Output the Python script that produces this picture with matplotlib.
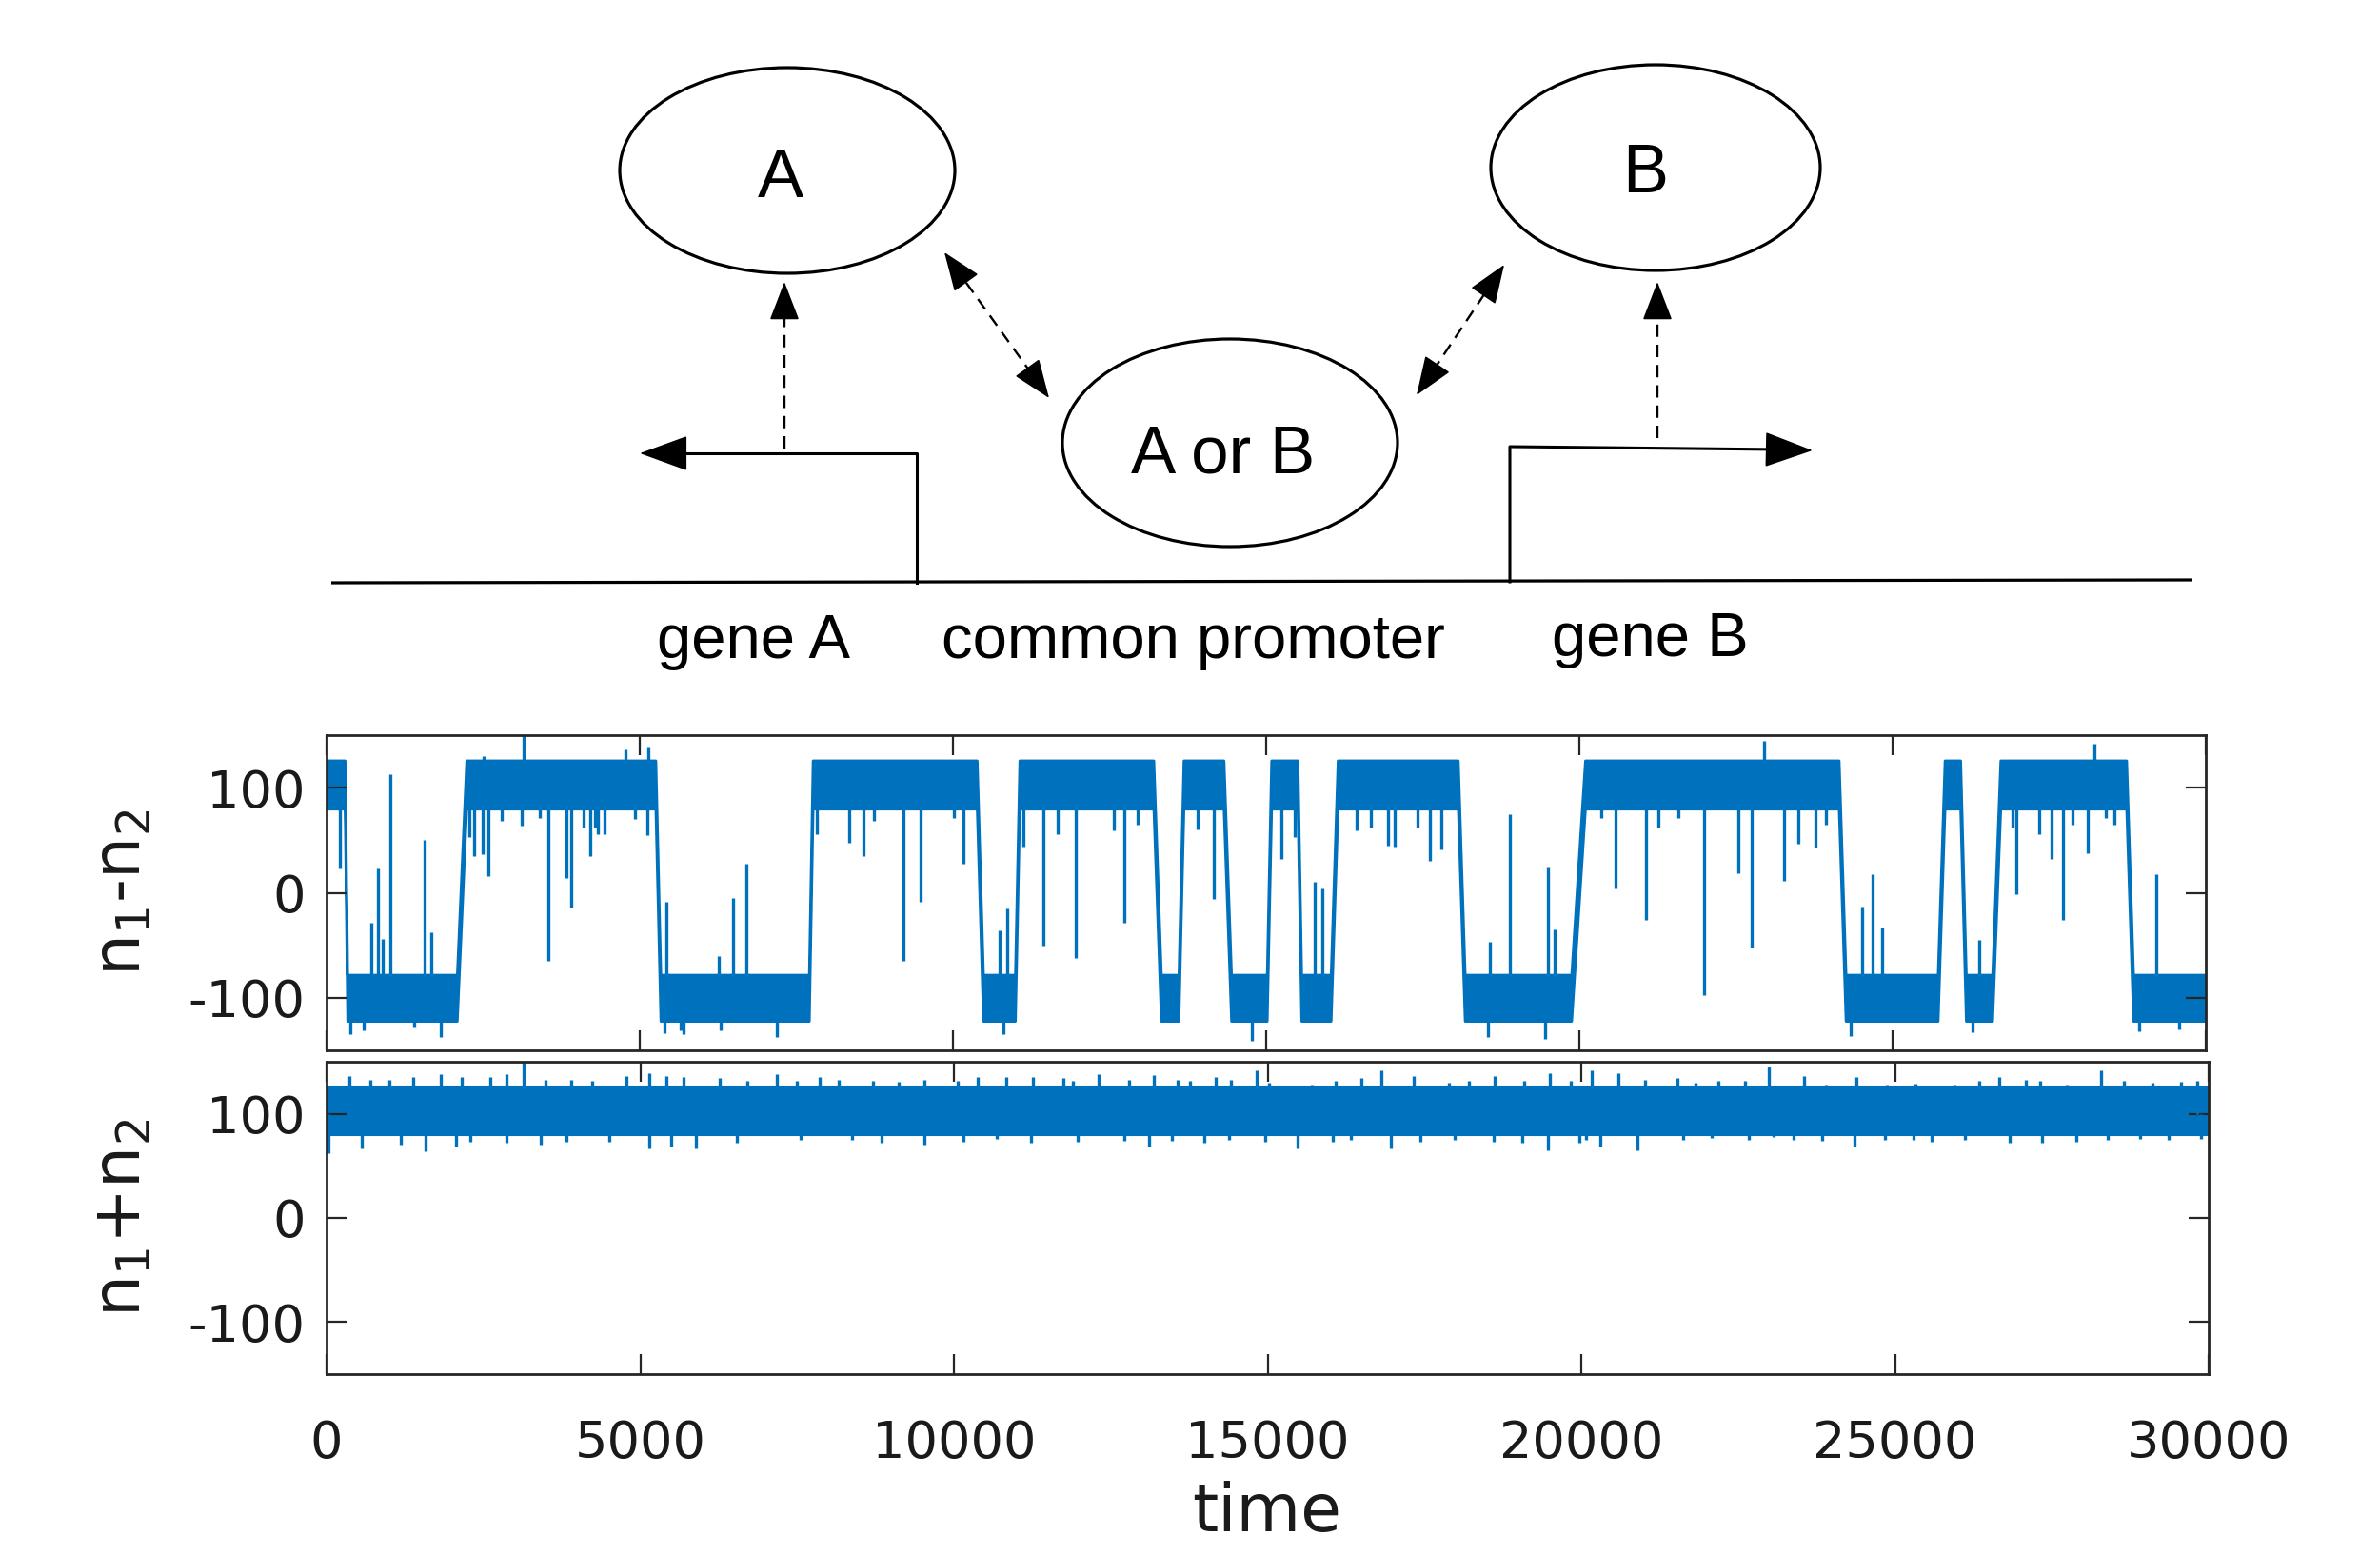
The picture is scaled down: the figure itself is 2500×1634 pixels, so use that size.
import matplotlib
matplotlib.use("Agg")
import matplotlib.pyplot as plt
from matplotlib.patches import Ellipse
import numpy as np

plt.rcParams['axes.unicode_minus'] = False
plt.rcParams['font.family'] = 'DejaVu Sans'
plt.rcParams['mathtext.fontset'] = 'dejavusans'

trace_color = '#0072BD'

# ---- n1-n2 trace: plateaus (start, end, state: 1 = high, -1 = low)
top_seg_start = [0, 330, 2230, 5330, 7760, 10480, 11060, 13320, 13680, 14440,
                 15080, 15560, 16140, 18170, 20090, 24250, 25830, 26170, 26720, 28840]
top_seg_end = [290, 2080, 5250, 7700, 10380, 10990, 13200, 13600, 14320, 15010,
               15500, 16030, 18060, 19870, 24140, 25720, 26080, 26590, 28730, 30000]
top_seg_state = [1, -1, 1, -1, 1, -1, 1, -1, 1, -1, 1, -1, 1, -1, 1, -1, 1, -1, 1, -1]
top_band_hi = {1: 126, -1: -78}
top_band_lo = {1: 80, -1: -122}
top_high_level = 100
top_low_level = -100

# excursions away from the high state (time, tip value)
top_hi_spike_t = [218, 2285, 2361, 2488, 2513, 2589, 2792, 3121, 3146, 3400, 3541, 3830,
                  3906, 4109, 4210, 4286, 4337, 4438, 4767, 4919, 5122, 5140,
                  7825, 8337, 8572, 8732, 9212, 9478, 10012, 10171,
                  11131, 11451, 11665, 11963, 12571, 12731, 12944, 13900, 14171,
                  15237, 15450, 16442, 16677, 16944, 17050, 17424, 17616, 17797,
                  20356, 20570, 21071, 21263, 21583, 21988, 22543, 22756, 22948,
                  23268, 23503, 23769, 23930, 26915, 26969, 27342, 27534, 27716,
                  27877, 28121, 28227, 28409, 28537]
top_hi_spike_v = [23, 53, 35, 37, 130, 16, 68, 64, 151, 71, -65, 14,
                  -14, 62, 35, 62, 56, 56, 136, 70, 55, 139,
                  56, 48, 35, 68, -65, -9, 71, 28,
                  44, -50, 56, -62, 59, -29, 65, 60, -6,
                  32, 53, 59, 62, 45, 44, 62, 30, 41,
                  71, 4, -26, 62, 71, -97, 19, -52, 145,
                  11, 47, 43, 65, 62, -1, 56, 32, -26,
                  65, 38, 142, 71, 65]
# excursions away from the low state
top_lo_spike_t = [385, 588, 715, 826, 892, 1018, 1398, 1560, 1677, 1819,
                  5400, 5426, 5654, 5693, 6262, 6287, 6490, 6703, 7185,
                  10740, 10812, 10865, 14779, 15780, 15900,
                  18543, 18576, 18885, 19450, 19503, 19610,
                  24334, 24516, 24676, 24836, 26276, 26380, 28942, 29208, 29582]
top_lo_spike_v = [-135, -131, -29, 23, -44, 113, -128, 50, -38, -137,
                  -134, -9, -131, -135, -60, -131, -5, 28, -137,
                  -36, -135, -15, -141, 10, 4,
                  -137, -47, 75, -139, 25, -35,
                  -136, -13, 18, -33, -133, -45, -132, 18, -130]

# ---- n1+n2 trace: single band around 100
bot_band = (80, 126)
bot_level = 100
bot_up_t = [364, 704, 1009, 1382, 1823, 2162, 2603, 2875, 3146, 3485, 3893, 4232, 4775,
            5148, 5419, 5691, 6267, 6708, 7183, 7489, 7862, 8167, 8710, 9117, 9524,
            10060, 10385, 10840, 11262, 11749, 11898, 12301, 12788, 13191, 13568, 13762,
            14172, 14412, 14821, 15029, 15711, 16081, 16490, 16815, 17335, 17887, 18212,
            18614, 19088, 19498, 19836,
            20167, 20590, 21012, 21533, 21824, 22181, 22603, 22993, 23545, 23902, 24389,
            24876, 25331, 25948, 26338, 26663, 27085, 27312, 27734, 28286, 28643, 29098,
            29553, 29813]
bot_up_v = [136, 133, 133, 135, 138, 135, 135, 138, 150, 133, 133, 132, 136,
            139, 136, 135, 134, 132, 138, 132, 135, 133, 132, 131, 133,
            132, 135, 135, 135, 134, 132, 138, 133, 137, 133, 132,
            135, 133, 142, 130, 128, 132, 134, 142, 136, 130, 132,
            136, 132, 139, 132,
            142, 139, 133, 134, 130, 132, 132, 145, 136, 128, 135,
            128, 129, 128, 132, 135, 133, 132, 128, 142, 132, 130,
            131, 132]
bot_dn_t = [25, 568, 1178, 1585, 2061, 2298, 2875, 3418, 3825, 4503, 5148, 5487, 5894,
            6539, 7556, 8371, 8846, 9524,
            10158, 10677, 11229, 11976, 12723, 13113, 13470, 13990, 14380, 14964, 15471,
            16036, 16328, 16965, 17432, 17984, 18601, 19056, 19465, 19965,
            20070, 20297, 20901, 21629, 22083, 22668, 23058, 23382, 23837, 24357, 24844,
            25299, 25591, 26110, 26825, 27344, 27896, 28384, 28903, 29358, 29877]
bot_dn_v = [62, 67, 70, 64, 69, 73, 72, 70, 73, 73, 67, 69, 67,
            72, 75, 75, 72, 70,
            73, 76, 72, 73, 74, 69, 74, 72, 75, 73, 67,
            73, 75, 67, 73, 75, 73, 72, 65, 72,
            75, 69, 65, 75, 77, 75, 78, 75, 74, 69, 75,
            75, 73, 75, 72, 72, 73, 75, 76, 75, 76]

x_ticks = [0, 5000, 10000, 15000, 20000, 25000, 30000]
y_ticks = [-100, 0, 100]

W, H = 2500, 1634
fig = plt.figure(figsize=(W / 100, H / 100), dpi=100)

# ---------------- diagram ----------------
dg = fig.add_axes([0, 0, 1, 1])
dg.set_xlim(0, W)
dg.set_ylim(H, 0)
dg.axis('off')

for (cx, cy, w, h) in [(827, 179, 352, 216), (1292, 465, 352, 218), (1739, 176, 346, 216)]:
    dg.add_patch(Ellipse((cx, cy), w, h, fill=False, ec='black', lw=2.3))

dfont = dict(family='Liberation Sans', color='black', ha='center', va='baseline')
dg.text(820, 207, 'A', fontsize=52, **dfont)
dg.text(1285, 496, 'A or B', fontsize=51, **dfont)
dg.text(1728, 202, 'B', fontsize=52, **dfont)
dg.text(792, 691, 'gene A', fontsize=47, **dfont)
dg.text(1253, 691, 'common promoter', fontsize=47, **dfont)
dg.text(1733, 689, 'gene B', fontsize=47, **dfont)

# DNA line and promoters
dg.plot([348, 2302], [612, 609], color='black', lw=2.3, solid_capstyle='butt')
dg.plot([963, 963, 700], [612, 476, 476], color='black', lw=2.2)
dg.plot([1586, 1586, 1870], [611, 469, 472], color='black', lw=2.2)


def head(tip, tail, hl, hw, scale):
    dg.annotate('', xy=tip, xytext=tail, xycoords='data',
                arrowprops=dict(arrowstyle=f'-|>,head_length={hl},head_width={hw}',
                                color='black', lw=1.2, shrinkA=0, shrinkB=0,
                                mutation_scale=scale))


head((672, 476), (720, 476), 1.1, 0.4, 30)
head((1904, 473), (1856, 472), 1.1, 0.4, 30)


def dashed_arrow(p0, p1, both):
    p0 = np.array(p0, float)
    p1 = np.array(p1, float)
    u = (p1 - p0) / np.hypot(*(p1 - p0))
    a = p0 + u * 30 if both else p0
    b = p1 - u * 30
    dg.plot([a[0], b[0]], [a[1], b[1]], color='black', lw=1.7, dashes=(5.5, 3.5))
    head(tuple(p1), tuple(p1 - u * 36), 1.3, 0.5, 20)
    if both:
        head(tuple(p0), tuple(p0 + u * 36), 1.3, 0.5, 20)


dashed_arrow((824, 471), (824, 296), False)
dashed_arrow((1741, 460), (1741, 296), False)
dashed_arrow((1102, 418), (992, 265), True)
dashed_arrow((1488, 415), (1580, 278), True)

# ---------------- traces ----------------
ax1 = fig.add_axes([343 / W, 1 - 1103 / H, (2317 - 343) / W, (1103 - 772) / H])
ax2 = fig.add_axes([343 / W, 1 - 1443 / H, (2320 - 343) / W, (1443 - 1115) / H])

xs, up, lo = [], [], []
for s, e, st in zip(top_seg_start, top_seg_end, top_seg_state):
    xs += [s, e]
    up += [top_band_hi[st], top_band_hi[st]]
    lo += [top_band_lo[st], top_band_lo[st]]
ax1.fill_between(xs, lo, up, color=trace_color, lw=2.0, ec=trace_color)
ax1.vlines(top_hi_spike_t, top_high_level, top_hi_spike_v, color=trace_color, lw=2.4)
ax1.vlines(top_lo_spike_t, top_low_level, top_lo_spike_v, color=trace_color, lw=2.4)

ax2.fill_between([0, 30000], [bot_band[0]] * 2, [bot_band[1]] * 2,
                 color=trace_color, lw=1.5, ec=trace_color)
ax2.vlines(bot_up_t, bot_level, bot_up_v, color=trace_color, lw=2.4)
ax2.vlines(bot_dn_t, bot_level, bot_dn_v, color=trace_color, lw=2.4)

for ax in (ax1, ax2):
    ax.set_xlim(0, 30000)
    ax.set_ylim(-150, 150)
    ax.set_xticks(x_ticks)
    ax.set_yticks(y_ticks)
    ax.tick_params(direction='in', length=15, width=1.6, color='#262626',
                   top=True, right=True, labelsize=39, labelcolor='#1a1a1a')
    ax.tick_params(axis='y', pad=16)
    ax.tick_params(axis='x', pad=34)
    for sp in ax.spines.values():
        sp.set_linewidth(2.0)
        sp.set_color('#262626')

ax1.tick_params(labelbottom=False)

fig.text(128 / W, 1 - 937 / H, r'n$_1$-n$_2$', rotation=90, ha='center', va='center',
         fontsize=50, color='#1a1a1a')
fig.text(128 / W, 1 - 1279 / H, r'n$_1$+n$_2$', rotation=90, ha='center', va='center',
         fontsize=50, color='#1a1a1a')
fig.text(1331 / W, 1 - 1608 / H, 'time', ha='center', va='baseline',
         fontsize=50, color='#1a1a1a')

fig.savefig('out.png', dpi=100)
